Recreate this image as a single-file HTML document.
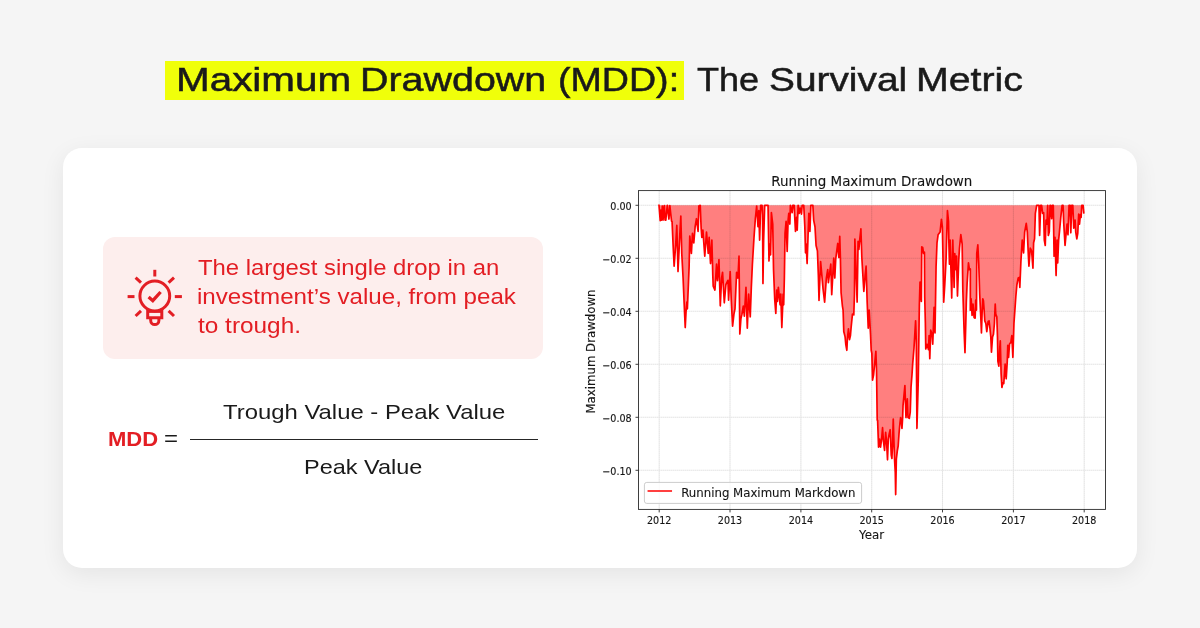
<!DOCTYPE html>
<html lang="en">
<head>
<meta charset="utf-8">
<title>Maximum Drawdown (MDD): The Survival Metric</title>
<style>
html,body{margin:0;padding:0;}
body{width:1200px;height:628px;overflow:hidden;background:#f5f5f5;position:relative;font-family:"Liberation Sans",sans-serif;color:#1a1a1a;}
.abs{position:absolute;white-space:nowrap;}
.x{position:absolute;white-space:nowrap;transform-origin:0 50%;}
.layer{position:absolute;left:0;top:0;width:1200px;height:628px;will-change:transform;}
.card{position:absolute;left:63px;top:148px;width:1074px;height:420px;background:#fff;border-radius:19px;box-shadow:0 6px 24px rgba(0,0,0,0.07);}
.hl{position:absolute;left:165px;top:61px;width:519px;height:39.4px;background:#f0ff0a;}
.pink{position:absolute;left:103px;top:236.5px;width:440px;height:122px;background:#fdeeed;border-radius:12px;}
svg{position:absolute;left:0;top:0;will-change:transform;}
svg text{font-family:"DejaVu Sans","Liberation Sans",sans-serif;fill:#141414;stroke:#141414;stroke-width:0.12px;}
</style>
</head>
<body>
<div class="hl"></div>
<div class="card"></div>
<div class="pink"></div>
<svg class="icon" style="left:120px;top:262px;" width="70" height="70" viewBox="0 0 70 70" fill="none" stroke="#e31e24" stroke-width="3" stroke-linecap="butt" stroke-linejoin="miter">
  <line x1="34.8" y1="7.8" x2="34.8" y2="14.5"/>
  <line x1="7.6" y1="34.6" x2="14.5" y2="34.6"/>
  <line x1="54.8" y1="34.6" x2="61.9" y2="34.6"/>
  <line x1="15.6" y1="15.6" x2="21.0" y2="20.6"/>
  <line x1="54.0" y1="15.6" x2="48.6" y2="20.6"/>
  <line x1="15.6" y1="54.0" x2="21.0" y2="48.8"/>
  <line x1="54.0" y1="54.0" x2="48.6" y2="48.8"/>
  <circle cx="34.8" cy="34.0" r="14.9"/>
  <path d="M27.7 46.5 V55.7 H41.8 V46.5"/>
  <path d="M27 49.6 H42.5" stroke-width="2.6"/>
  <path d="M30.7 56.5 V58.5 A4.1 4.1 0 0 0 38.9 58.5 V56.5"/>
  <path d="M28.6 35.1 L32.8 38.7 L40.6 30.0" stroke-width="3.3"/>
</svg>
<div class="layer">
<div class="x" style="left:175.61px;top:56.56px;font-size:33.2px;line-height:46.48px;color:#1a1a1a;-webkit-text-stroke:0.5px #1a1a1a;transform:scaleX(1.2181);">Maximum</div>
<div class="x" style="left:359.58px;top:56.56px;font-size:33.2px;line-height:46.48px;color:#1a1a1a;-webkit-text-stroke:0.5px #1a1a1a;transform:scaleX(1.1879);">Drawdown</div>
<div class="x" style="left:558.01px;top:56.56px;font-size:33.2px;line-height:46.48px;color:#1a1a1a;-webkit-text-stroke:0.5px #1a1a1a;transform:scaleX(1.1326);">(MDD):</div>
<div class="x" style="left:696.96px;top:56.56px;font-size:33.2px;line-height:46.48px;color:#1a1a1a;-webkit-text-stroke:0.5px #1a1a1a;transform:scaleX(1.0865);">The</div>
<div class="x" style="left:768.89px;top:56.56px;font-size:33.2px;line-height:46.48px;color:#1a1a1a;-webkit-text-stroke:0.5px #1a1a1a;transform:scaleX(1.1702);">Survival</div>
<div class="x" style="left:915.89px;top:56.56px;font-size:33.2px;line-height:46.48px;color:#1a1a1a;-webkit-text-stroke:0.5px #1a1a1a;transform:scaleX(1.1842);">Metric</div>
<div class="x" style="left:197.84px;top:253.60px;font-size:21.4px;line-height:29.96px;color:#e31e24;transform:scaleX(1.1161);">The largest single drop in an</div>
<div class="x" style="left:197.14px;top:282.60px;font-size:21.4px;line-height:29.96px;color:#e31e24;transform:scaleX(1.1285);">investment&#8217;s value, from peak</div>
<div class="x" style="left:197.76px;top:311.80px;font-size:21.4px;line-height:29.96px;color:#e31e24;transform:scaleX(1.1396);">to trough.</div>
<div class="x" style="left:107.57px;top:423.73px;font-size:20.8px;line-height:29.12px;color:#e31e24;font-weight:bold;transform:scaleX(1.0597);">MDD</div>
<div class="x" style="left:164.31px;top:422.95px;font-size:22.6px;line-height:31.64px;color:#1a1a1a;transform:scaleX(1.0636);">=</div>
<div class="x" style="left:222.92px;top:397.64px;font-size:20.6px;line-height:28.84px;color:#1a1a1a;transform:scaleX(1.1595);">Trough Value - Peak Value</div>
<div class="x" style="left:304.36px;top:453.05px;font-size:20.4px;line-height:28.56px;color:#1a1a1a;transform:scaleX(1.1510);">Peak Value</div>
</div>
<div class="abs" style="left:190px;top:438.8px;width:348px;height:1.2px;background:#262626;"></div>

<svg width="1200" height="628" viewBox="0 0 1200 628">
  <path d="M659.01 205.3 L659.01 205.3 L660.22 220.58 L660.91 210.03 L661.62 220.07 L662.33 206.02 L663.03 220.07 L663.72 209.53 L664.34 205.51 L665.03 220.07 L665.84 220.07 L666.53 212.04 L667.33 205.3 L668.14 213.04 L668.94 219.06 L669.85 205.51 L670.65 213.04 L671.56 221.07 L672.06 221.57 L673.06 244.15 L674.13 266.22 L675.74 244.15 L676.81 225.42 L678.01 271.57 L679.75 236.12 L680.82 216.05 L681.76 253.51 L683.09 278.03 L684.16 303.44 L685.23 327.53 L686.04 311.47 L686.84 302.11 L687.37 308.8 L688.44 283.38 L689.11 266.89 L689.78 236.12 L691.39 253.51 L692.46 233.44 L693.8 242.81 L695.13 226.76 L696.47 218.73 L698.08 231.44 L698.88 206.02 L700.22 205.35 L701.15 228.09 L701.82 237.46 L702.89 230.1 L704.77 256.19 L706.51 232.11 L708.24 253.51 L709.18 237.46 L710.52 263.55 L711.86 240.13 L712.79 274.92 L713.19 286.05 L714.93 290.07 L716.54 264.21 L717.47 280.7 L718.95 259.53 L720.28 305.85 L721.62 278.03 L722.56 272.24 L724.3 302.78 L725.9 284.72 L727.91 280.27 L728.58 300.1 L730.18 271.57 L731.25 299.43 L732.59 326.19 L733.93 314.15 L735.0 308.8 L736.61 272.24 L737.94 278.03 L739.01 256.19 L739.82 333.95 L740.89 318.83 L741.96 314.15 L743.29 306.12 L744.36 316.15 L745.97 287.39 L747.31 328.19 L748.65 294.08 L750.25 316.82 L751.32 287.39 L752.39 264.21 L754.0 237.46 L755.33 218.73 L756.67 206.02 L758.01 226.76 L758.81 210.7 L759.62 240.13 L760.69 205.35 L762.02 205.35 L762.56 214.72 L762.96 283.38 L763.63 240.13 L764.7 205.35 L768.04 205.35 L768.98 260.87 L769.78 244.15 L770.59 254.85 L771.39 212.71 L772.73 224.08 L773.53 269.57 L774.73 299.43 L775.8 313.48 L776.74 290.07 L777.41 301.44 L778.34 287.39 L780.08 304.78 L780.75 294.08 L781.82 327.53 L783.16 294.08 L783.7 304.78 L784.36 278.03 L785.03 233.44 L786.1 221.4 L787.17 251.51 L788.11 220.07 L788.78 213.38 L789.85 224.08 L790.38 205.35 L792.12 212.71 L792.79 205.35 L794.13 205.35 L795.47 231.44 L796.54 217.39 L797.21 230.1 L798.14 205.35 L799.21 213.38 L800.15 208.03 L801.49 214.05 L802.16 205.35 L803.76 205.35 L804.83 226.76 L805.5 252.84 L806.17 244.15 L807.11 263.55 L808.18 232.11 L808.85 213.38 L809.92 231.44 L810.85 205.35 L812.86 205.35 L813.66 220.07 L815.0 226.76 L816.07 245.48 L817.41 250.84 L818.34 274.92 L819.01 300.5 L820.62 261.54 L823.03 288.73 L824.63 302.11 L826.37 278.03 L827.71 269.57 L828.38 282.71 L830.79 264.21 L831.72 294.75 L833.73 258.19 L834.8 278.03 L835.74 258.86 L837.74 243.48 L838.81 257.53 L839.75 236.39 L840.42 258.86 L841.09 292.74 L842.42 306.12 L843.09 310.13 L843.76 331.54 L845.1 336.89 L845.77 344.25 L846.84 350.27 L847.37 339.57 L848.44 328.86 L849.52 339.57 L850.45 335.55 L851.12 327.53 L852.46 314.15 L853.8 314.82 L854.46 294.08 L854.87 239.06 L857.14 302.11 L858.08 241.47 L858.88 249.5 L859.82 238.8 L860.89 228.76 L861.82 257.53 L863.83 291.4 L865.17 274.92 L866.1 266.22 L867.17 302.11 L868.24 328.19 L869.18 310.13 L870.52 334.21 L871.19 350.27 L871.86 353.38 L872.53 380.13 L873.6 374.78 L875.87 351.37 L876.54 370.77 L877.21 420.27 L877.61 420.35 L878.55 447.11 L879.62 439.08 L880.55 447.11 L881.62 439.08 L882.56 427.71 L883.49 441.76 L884.57 450.45 L885.64 432.39 L886.57 441.76 L887.51 459.82 L888.31 439.08 L889.25 433.73 L890.18 429.72 L891.25 455.13 L891.92 458.48 L892.59 441.76 L893.26 419.01 L893.93 441.76 L894.6 460.48 L895.27 472.53 L895.67 494.6 L896.34 459.15 L897.27 451.12 L898.21 445.77 L899.01 433.73 L899.95 423.03 L900.62 417.68 L901.29 420.35 L901.96 428.38 L902.63 417.68 L903.03 405.55 L904.9 385.48 L905.97 417.59 L907.31 398.86 L907.98 417.59 L909.31 418.26 L910.25 412.24 L911.05 386.82 L911.99 374.78 L912.66 364.08 L914.0 348.03 L915.6 320.84 L916.27 339.57 L916.94 428.38 L918.28 380.13 L919.08 323.51 L919.35 304.78 L920.02 282.04 L921.35 301.44 L921.76 246.82 L922.69 247.49 L923.63 253.51 L924.43 252.17 L924.7 296.76 L925.37 323.51 L925.77 348.93 L927.11 344.25 L928.44 349.6 L929.11 335.55 L929.78 358.73 L930.72 330.2 L932.06 334.21 L932.73 344.25 L933.39 327.53 L934.06 307.46 L935.0 332.88 L935.67 291.4 L936.07 266.89 L937.01 242.81 L938.08 234.78 L940.08 232.11 L941.42 219.4 L942.36 226.76 L943.16 266.89 L943.7 302.11 L944.77 284.72 L946.1 258.86 L946.77 233.44 L947.44 210.7 L948.51 221.4 L948.78 238.8 L949.45 264.21 L950.12 240.13 L951.72 298.09 L952.79 240.13 L954.13 287.39 L954.8 253.51 L955.74 269.57 L956.54 256.19 L957.47 296.09 L958.81 258.86 L959.48 248.16 L960.82 234.52 L962.16 244.15 L962.83 290.07 L964.16 332.88 L964.98 352.68 L965.79 323.51 L966.32 302.11 L967.12 283.38 L968.46 262.88 L969.4 269.57 L970.33 268.9 L970.33 310.13 L971.14 298.76 L972.07 315.48 L973.01 304.11 L974.08 317.49 L975.15 318.16 L975.69 300.1 L976.49 310.13 L976.76 253.51 L977.83 244.82 L978.76 264.21 L979.7 294.08 L980.77 316.82 L981.44 332.88 L982.11 312.81 L982.78 298.76 L983.44 300.77 L984.11 310.13 L984.78 320.84 L985.85 323.51 L986.79 331.54 L988.13 321.51 L989.06 320.84 L989.87 327.53 L990.8 336.89 L991.47 352.27 L992.54 336.89 L993.48 334.21 L994.41 323.51 L995.22 304.11 L995.75 314.15 L996.82 316.82 L997.49 336.89 L997.89 361.4 L998.83 366.09 L999.77 348.03 L1000.3 340.9 L1001.1 373.44 L1001.91 387.49 L1002.84 382.81 L1003.78 383.48 L1004.58 372.11 L1005.12 364.08 L1006.19 378.8 L1007.26 361.4 L1007.79 345.35 L1008.6 357.39 L1009.53 344.01 L1010.87 342.24 L1011.81 335.55 L1012.88 357.39 L1013.95 323.51 L1014.88 310.13 L1015.82 296.76 L1016.89 284.72 L1018.23 278.03 L1019.3 277.36 L1019.83 287.39 L1020.9 261.54 L1022.24 240.13 L1023.58 252.84 L1024.65 232.11 L1026.25 223.41 L1027.32 232.11 L1028.26 253.51 L1028.93 266.22 L1030.27 248.16 L1031.61 250.84 L1032.94 268.23 L1033.61 242.81 L1034.55 238.8 L1035.35 213.38 L1036.69 205.35 L1038.96 205.35 L1039.63 235.45 L1040.7 205.35 L1041.64 205.35 L1042.58 213.38 L1043.65 212.71 L1044.31 240.13 L1045.25 245.48 L1046.05 220.07 L1046.99 224.08 L1047.66 205.35 L1048.33 235.45 L1049.26 232.11 L1050.07 205.35 L1050.6 205.35 L1051.67 218.73 L1052.34 205.35 L1053.28 205.35 L1054.08 256.19 L1055.02 237.46 L1056.09 275.59 L1057.02 240.13 L1057.69 262.88 L1058.63 240.13 L1059.43 232.11 L1060.77 217.39 L1062.11 205.35 L1063.04 205.35 L1063.71 222.74 L1065.05 245.48 L1066.12 233.44 L1067.06 224.08 L1067.99 234.78 L1069.06 205.35 L1070.13 205.35 L1070.8 232.78 L1071.74 205.35 L1072.81 205.35 L1073.75 228.09 L1075.08 220.07 L1075.75 232.11 L1076.82 238.8 L1077.76 233.44 L1078.7 214.05 L1079.5 224.08 L1080.43 214.72 L1081.1 217.39 L1081.77 205.35 L1083.11 205.35 L1083.78 212.71 L1083.78 205.3 Z" fill="#ff0000" fill-opacity="0.5" stroke="none"/>
  <g stroke="#000" stroke-width="1.1" stroke-dasharray="1.6 0.4" opacity="0.105"><line x1="659.2" y1="190.6" x2="659.2" y2="509.4"/><line x1="730.0" y1="190.6" x2="730.0" y2="509.4"/><line x1="800.9" y1="190.6" x2="800.9" y2="509.4"/><line x1="871.7" y1="190.6" x2="871.7" y2="509.4"/><line x1="942.5" y1="190.6" x2="942.5" y2="509.4"/><line x1="1013.4" y1="190.6" x2="1013.4" y2="509.4"/><line x1="1084.2" y1="190.6" x2="1084.2" y2="509.4"/><line x1="638.5" y1="205.3" x2="1105.5" y2="205.3"/><line x1="638.5" y1="258.3" x2="1105.5" y2="258.3"/><line x1="638.5" y1="311.3" x2="1105.5" y2="311.3"/><line x1="638.5" y1="364.3" x2="1105.5" y2="364.3"/><line x1="638.5" y1="417.3" x2="1105.5" y2="417.3"/><line x1="638.5" y1="470.3" x2="1105.5" y2="470.3"/></g>
  <path d="M659.01 205.3 L660.22 220.58 L660.91 210.03 L661.62 220.07 L662.33 206.02 L663.03 220.07 L663.72 209.53 L664.34 205.51 L665.03 220.07 L665.84 220.07 L666.53 212.04 L667.33 205.3 L668.14 213.04 L668.94 219.06 L669.85 205.51 L670.65 213.04 L671.56 221.07 L672.06 221.57 L673.06 244.15 L674.13 266.22 L675.74 244.15 L676.81 225.42 L678.01 271.57 L679.75 236.12 L680.82 216.05 L681.76 253.51 L683.09 278.03 L684.16 303.44 L685.23 327.53 L686.04 311.47 L686.84 302.11 L687.37 308.8 L688.44 283.38 L689.11 266.89 L689.78 236.12 L691.39 253.51 L692.46 233.44 L693.8 242.81 L695.13 226.76 L696.47 218.73 L698.08 231.44 L698.88 206.02 L700.22 205.35 L701.15 228.09 L701.82 237.46 L702.89 230.1 L704.77 256.19 L706.51 232.11 L708.24 253.51 L709.18 237.46 L710.52 263.55 L711.86 240.13 L712.79 274.92 L713.19 286.05 L714.93 290.07 L716.54 264.21 L717.47 280.7 L718.95 259.53 L720.28 305.85 L721.62 278.03 L722.56 272.24 L724.3 302.78 L725.9 284.72 L727.91 280.27 L728.58 300.1 L730.18 271.57 L731.25 299.43 L732.59 326.19 L733.93 314.15 L735.0 308.8 L736.61 272.24 L737.94 278.03 L739.01 256.19 L739.82 333.95 L740.89 318.83 L741.96 314.15 L743.29 306.12 L744.36 316.15 L745.97 287.39 L747.31 328.19 L748.65 294.08 L750.25 316.82 L751.32 287.39 L752.39 264.21 L754.0 237.46 L755.33 218.73 L756.67 206.02 L758.01 226.76 L758.81 210.7 L759.62 240.13 L760.69 205.35 L762.02 205.35 L762.56 214.72 L762.96 283.38 L763.63 240.13 L764.7 205.35 L768.04 205.35 L768.98 260.87 L769.78 244.15 L770.59 254.85 L771.39 212.71 L772.73 224.08 L773.53 269.57 L774.73 299.43 L775.8 313.48 L776.74 290.07 L777.41 301.44 L778.34 287.39 L780.08 304.78 L780.75 294.08 L781.82 327.53 L783.16 294.08 L783.7 304.78 L784.36 278.03 L785.03 233.44 L786.1 221.4 L787.17 251.51 L788.11 220.07 L788.78 213.38 L789.85 224.08 L790.38 205.35 L792.12 212.71 L792.79 205.35 L794.13 205.35 L795.47 231.44 L796.54 217.39 L797.21 230.1 L798.14 205.35 L799.21 213.38 L800.15 208.03 L801.49 214.05 L802.16 205.35 L803.76 205.35 L804.83 226.76 L805.5 252.84 L806.17 244.15 L807.11 263.55 L808.18 232.11 L808.85 213.38 L809.92 231.44 L810.85 205.35 L812.86 205.35 L813.66 220.07 L815.0 226.76 L816.07 245.48 L817.41 250.84 L818.34 274.92 L819.01 300.5 L820.62 261.54 L823.03 288.73 L824.63 302.11 L826.37 278.03 L827.71 269.57 L828.38 282.71 L830.79 264.21 L831.72 294.75 L833.73 258.19 L834.8 278.03 L835.74 258.86 L837.74 243.48 L838.81 257.53 L839.75 236.39 L840.42 258.86 L841.09 292.74 L842.42 306.12 L843.09 310.13 L843.76 331.54 L845.1 336.89 L845.77 344.25 L846.84 350.27 L847.37 339.57 L848.44 328.86 L849.52 339.57 L850.45 335.55 L851.12 327.53 L852.46 314.15 L853.8 314.82 L854.46 294.08 L854.87 239.06 L857.14 302.11 L858.08 241.47 L858.88 249.5 L859.82 238.8 L860.89 228.76 L861.82 257.53 L863.83 291.4 L865.17 274.92 L866.1 266.22 L867.17 302.11 L868.24 328.19 L869.18 310.13 L870.52 334.21 L871.19 350.27 L871.86 353.38 L872.53 380.13 L873.6 374.78 L875.87 351.37 L876.54 370.77 L877.21 420.27 L877.61 420.35 L878.55 447.11 L879.62 439.08 L880.55 447.11 L881.62 439.08 L882.56 427.71 L883.49 441.76 L884.57 450.45 L885.64 432.39 L886.57 441.76 L887.51 459.82 L888.31 439.08 L889.25 433.73 L890.18 429.72 L891.25 455.13 L891.92 458.48 L892.59 441.76 L893.26 419.01 L893.93 441.76 L894.6 460.48 L895.27 472.53 L895.67 494.6 L896.34 459.15 L897.27 451.12 L898.21 445.77 L899.01 433.73 L899.95 423.03 L900.62 417.68 L901.29 420.35 L901.96 428.38 L902.63 417.68 L903.03 405.55 L904.9 385.48 L905.97 417.59 L907.31 398.86 L907.98 417.59 L909.31 418.26 L910.25 412.24 L911.05 386.82 L911.99 374.78 L912.66 364.08 L914.0 348.03 L915.6 320.84 L916.27 339.57 L916.94 428.38 L918.28 380.13 L919.08 323.51 L919.35 304.78 L920.02 282.04 L921.35 301.44 L921.76 246.82 L922.69 247.49 L923.63 253.51 L924.43 252.17 L924.7 296.76 L925.37 323.51 L925.77 348.93 L927.11 344.25 L928.44 349.6 L929.11 335.55 L929.78 358.73 L930.72 330.2 L932.06 334.21 L932.73 344.25 L933.39 327.53 L934.06 307.46 L935.0 332.88 L935.67 291.4 L936.07 266.89 L937.01 242.81 L938.08 234.78 L940.08 232.11 L941.42 219.4 L942.36 226.76 L943.16 266.89 L943.7 302.11 L944.77 284.72 L946.1 258.86 L946.77 233.44 L947.44 210.7 L948.51 221.4 L948.78 238.8 L949.45 264.21 L950.12 240.13 L951.72 298.09 L952.79 240.13 L954.13 287.39 L954.8 253.51 L955.74 269.57 L956.54 256.19 L957.47 296.09 L958.81 258.86 L959.48 248.16 L960.82 234.52 L962.16 244.15 L962.83 290.07 L964.16 332.88 L964.98 352.68 L965.79 323.51 L966.32 302.11 L967.12 283.38 L968.46 262.88 L969.4 269.57 L970.33 268.9 L970.33 310.13 L971.14 298.76 L972.07 315.48 L973.01 304.11 L974.08 317.49 L975.15 318.16 L975.69 300.1 L976.49 310.13 L976.76 253.51 L977.83 244.82 L978.76 264.21 L979.7 294.08 L980.77 316.82 L981.44 332.88 L982.11 312.81 L982.78 298.76 L983.44 300.77 L984.11 310.13 L984.78 320.84 L985.85 323.51 L986.79 331.54 L988.13 321.51 L989.06 320.84 L989.87 327.53 L990.8 336.89 L991.47 352.27 L992.54 336.89 L993.48 334.21 L994.41 323.51 L995.22 304.11 L995.75 314.15 L996.82 316.82 L997.49 336.89 L997.89 361.4 L998.83 366.09 L999.77 348.03 L1000.3 340.9 L1001.1 373.44 L1001.91 387.49 L1002.84 382.81 L1003.78 383.48 L1004.58 372.11 L1005.12 364.08 L1006.19 378.8 L1007.26 361.4 L1007.79 345.35 L1008.6 357.39 L1009.53 344.01 L1010.87 342.24 L1011.81 335.55 L1012.88 357.39 L1013.95 323.51 L1014.88 310.13 L1015.82 296.76 L1016.89 284.72 L1018.23 278.03 L1019.3 277.36 L1019.83 287.39 L1020.9 261.54 L1022.24 240.13 L1023.58 252.84 L1024.65 232.11 L1026.25 223.41 L1027.32 232.11 L1028.26 253.51 L1028.93 266.22 L1030.27 248.16 L1031.61 250.84 L1032.94 268.23 L1033.61 242.81 L1034.55 238.8 L1035.35 213.38 L1036.69 205.35 L1038.96 205.35 L1039.63 235.45 L1040.7 205.35 L1041.64 205.35 L1042.58 213.38 L1043.65 212.71 L1044.31 240.13 L1045.25 245.48 L1046.05 220.07 L1046.99 224.08 L1047.66 205.35 L1048.33 235.45 L1049.26 232.11 L1050.07 205.35 L1050.6 205.35 L1051.67 218.73 L1052.34 205.35 L1053.28 205.35 L1054.08 256.19 L1055.02 237.46 L1056.09 275.59 L1057.02 240.13 L1057.69 262.88 L1058.63 240.13 L1059.43 232.11 L1060.77 217.39 L1062.11 205.35 L1063.04 205.35 L1063.71 222.74 L1065.05 245.48 L1066.12 233.44 L1067.06 224.08 L1067.99 234.78 L1069.06 205.35 L1070.13 205.35 L1070.8 232.78 L1071.74 205.35 L1072.81 205.35 L1073.75 228.09 L1075.08 220.07 L1075.75 232.11 L1076.82 238.8 L1077.76 233.44 L1078.7 214.05 L1079.5 224.08 L1080.43 214.72 L1081.1 217.39 L1081.77 205.35 L1083.11 205.35 L1083.78 212.71" fill="none" stroke="#ff0000" stroke-width="1.7" stroke-linejoin="round" stroke-linecap="square"/>
  <rect x="638.5" y="190.6" width="467.0" height="318.79999999999995" fill="none" stroke="#2b2b2b" stroke-width="0.9"/>
  <g stroke="#2b2b2b" stroke-width="0.9"><line x1="659.2" y1="509.4" x2="659.2" y2="512.4"/><line x1="730.0" y1="509.4" x2="730.0" y2="512.4"/><line x1="800.9" y1="509.4" x2="800.9" y2="512.4"/><line x1="871.7" y1="509.4" x2="871.7" y2="512.4"/><line x1="942.5" y1="509.4" x2="942.5" y2="512.4"/><line x1="1013.4" y1="509.4" x2="1013.4" y2="512.4"/><line x1="1084.2" y1="509.4" x2="1084.2" y2="512.4"/><line x1="635.5" y1="205.3" x2="638.5" y2="205.3"/><line x1="635.5" y1="258.3" x2="638.5" y2="258.3"/><line x1="635.5" y1="311.3" x2="638.5" y2="311.3"/><line x1="635.5" y1="364.3" x2="638.5" y2="364.3"/><line x1="635.5" y1="417.3" x2="638.5" y2="417.3"/><line x1="635.5" y1="470.3" x2="638.5" y2="470.3"/></g>
  <g font-size="9.6"><text x="659.2" y="523.6" text-anchor="middle">2012</text><text x="730.0" y="523.6" text-anchor="middle">2013</text><text x="800.9" y="523.6" text-anchor="middle">2014</text><text x="871.7" y="523.6" text-anchor="middle">2015</text><text x="942.5" y="523.6" text-anchor="middle">2016</text><text x="1013.4" y="523.6" text-anchor="middle">2017</text><text x="1084.2" y="523.6" text-anchor="middle">2018</text><text x="631.7" y="210.1" text-anchor="end">0.00</text><text x="631.7" y="263.1" text-anchor="end">−0.02</text><text x="631.7" y="316.1" text-anchor="end">−0.04</text><text x="631.7" y="369.1" text-anchor="end">−0.06</text><text x="631.7" y="422.1" text-anchor="end">−0.08</text><text x="631.7" y="475.1" text-anchor="end">−0.10</text></g>
  <text x="871.8" y="186" text-anchor="middle" font-size="13.45">Running Maximum Drawdown</text>
  <text x="871.6" y="538.9" text-anchor="middle" font-size="11.8">Year</text>
  <text transform="translate(594.8 351.5) rotate(-90)" text-anchor="middle" font-size="11.75">Maximum Drawdown</text>
  <rect x="644.4" y="482.4" width="217.2" height="21" rx="2.4" fill="#fff" fill-opacity="0.8" stroke="#cccccc" stroke-width="1"/>
  <line x1="648.3" y1="491" x2="671.3" y2="491" stroke="#ff0000" stroke-width="1.5" stroke-linecap="square"/>
  <text x="681.2" y="496.5" font-size="11.75">Running Maximum Markdown</text>
</svg>
</body>
</html>
